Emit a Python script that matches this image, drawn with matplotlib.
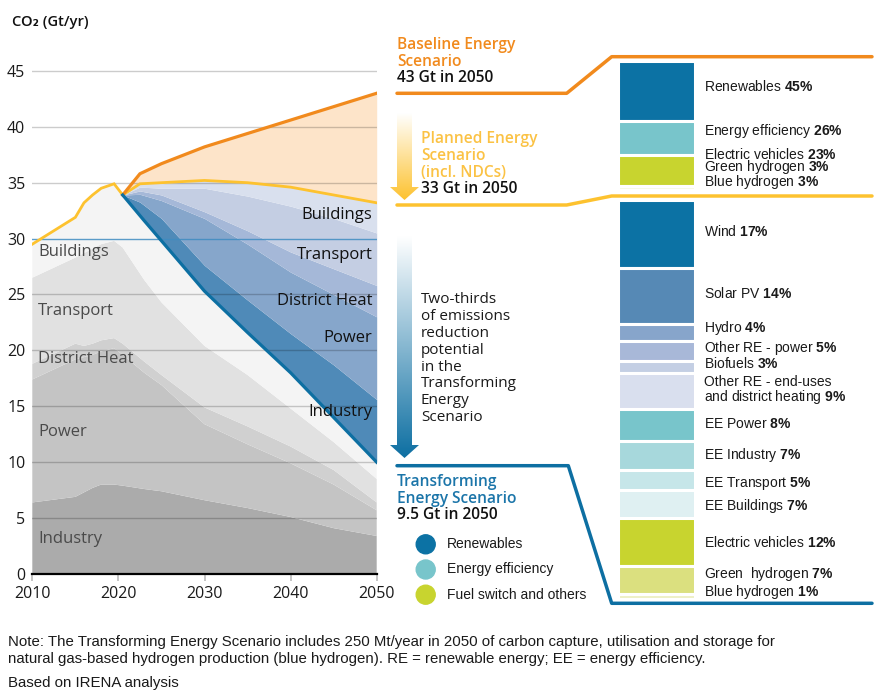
import numpy as np
import matplotlib
matplotlib.use("Agg")
import matplotlib.pyplot as plt
from matplotlib import font_manager
from matplotlib.patches import Circle, Polygon
from matplotlib.colors import LinearSegmentedColormap

# ======================================================
# DATA (Gt CO2 / yr)
# ======================================================

years = [2010, 2015, 2016, 2017, 2018, 2019.5, 2020.5, 2023,
         2025, 2030, 2035, 2040, 2045, 2050]

# history + Transforming Energy Scenario, by sector
tes_industry = [6.4, 6.9, 7.3, 7.7, 8.0, 8.0, 7.9, 7.6, 7.4, 6.6, 5.9, 5.1, 4.1, 3.4]
tes_power = [11.0, 12.3, 12.1, 11.9, 11.9, 12.2, 11.7, 10.4, 9.5, 6.8, 5.7, 4.8, 3.9, 2.3]
tes_dheat = [1.4, 1.4, 1.0, 1.0, 1.0, 0.9, 1.0, 1.0, 0.9, 1.5, 1.6, 1.5, 1.3, 0.7]
tes_transport = [7.7, 7.7, 8.3, 8.5, 8.6, 8.7, 8.6, 7.3, 6.5, 5.5, 4.6, 3.4, 2.5, 2.1]
tes_buildings = [3.0, 3.6, 4.5, 4.8, 5.0, 5.1, 4.7, 5.3, 5.5, 4.9, 3.8, 3.2, 2.2, 1.5]

scen_years = [2020.5, 2022.5, 2025, 2030, 2035, 2040, 2045, 2050]
baseline = [33.9, 35.8, 36.7, 38.2, 39.4, 40.6, 41.8, 43.0]
planned = [33.9, 34.9, 35.0, 35.2, 35.0, 34.6, 33.9, 33.2]

# reduction Planned -> Transforming, by sector
cut_industry = [0, 1.2, 2.0, 2.3, 2.9, 3.5, 4.7, 5.6]
cut_power = [0, 0.7, 1.6, 4.2, 5.0, 5.5, 6.3, 7.4]
cut_dheat = [0, 0.3, 0.5, 0.6, 1.2, 1.8, 2.3, 2.8]
cut_transport = [0, 0.35, 0.6, 2.1, 3.1, 4.1, 4.5, 4.7]
cut_buildings = [0, 0.3, 0.4, 0.7, 1.2, 1.7, 2.1, 2.7]

sectors = ["Industry", "Power", "District Heat", "Transport", "Buildings"]

# Baseline -> Planned reduction shares (%)
upper_labels = ["Renewables", "Energy efficiency", "Electric vehicles",
                "Green hydrogen", "Blue hydrogen"]
upper_shares = [45, 26, 23, 3, 3]

# Planned -> Transforming reduction shares (%)
lower_labels = ["Wind", "Solar PV", "Hydro", "Other RE - power", "Biofuels",
                "Other RE - end-uses\nand district heating", "EE Power",
                "EE Industry", "EE Transport", "EE Buildings",
                "Electric vehicles", "Green  hydrogen", "Blue hydrogen"]
lower_shares = [17, 14, 4, 5, 3, 9, 8, 7, 5, 7, 12, 7, 1]

legend_labels = ["Renewables", "Energy efficiency", "Fuel switch and others"]

# ======================================================
# STYLE
# ======================================================

avail = {f.name for f in font_manager.fontManager.ttflist}
MAIN = "Open Sans" if "Open Sans" in avail else "DejaVu Sans"
NARROW = "Liberation Sans Narrow" if "Liberation Sans Narrow" in avail else "Liberation Sans"

plt.rcParams["font.family"] = [MAIN, "DejaVu Sans"]
plt.rcParams["mathtext.fontset"] = "custom"
plt.rcParams["mathtext.rm"] = NARROW
plt.rcParams["mathtext.bf"] = NARROW + ":bold"

grey_cols = ["#ababab", "#c4c4c4", "#d0d0d0", "#e1e1e1", "#f4f4f4"]
blue_cols = ["#4f8ab8", "#86a6cb", "#a5b8d8", "#c4cee3", "#d9e0ee"]
upper_cols = ["#0c72a4", "#78c5cb", "#c8d42f", "#f7f9e4", "#e6ebbd"]
lower_cols = ["#0c72a4", "#5689b5", "#87a5cb", "#a8b8d8", "#c4cfe4", "#d9dfee",
              "#78c5cb", "#a7d8dc", "#c6e6e9", "#dff0f2", "#c8d42f",
              "#dbe07f", "#eef0c6"]
legend_cols = ["#0c72a4", "#78c5cb", "#c8d42f"]

ORANGE = "#f18a1d"
YELLOW = "#fdc22f"
BLUE = "#0d6fa2"
W, H = 889, 697

fig = plt.figure(figsize=(W / 100, H / 100), dpi=100)

# ======================================================
# MAIN AREA CHART
# ======================================================

ax = fig.add_axes([32.3 / W, 1 - 574 / H, 344.4 / W, 514.3 / H])

ax.stackplot(years, tes_industry, tes_power, tes_dheat, tes_transport,
             tes_buildings, colors=grey_cols, linewidth=0)

tes_total = np.sum([tes_industry, tes_power, tes_dheat, tes_transport,
                    tes_buildings], axis=0)

# reduction wedge on top of the TES total
base = np.interp(scen_years, years, tes_total)
cuts = [cut_industry, cut_power, cut_dheat, cut_transport, cut_buildings]
lower = base.copy()
for c, col in zip(cuts, blue_cols):
    upper = lower + np.array(c)
    ax.fill_between(scen_years, lower, upper, color=col, linewidth=0)
    lower = upper

ax.fill_between(scen_years, planned, baseline, color="#fde4c9", linewidth=0)

# gridlines
for v in range(5, 50, 5):
    if v == 30:
        ax.axhline(v, color="#3f8cc1", lw=1.0, alpha=0.85, zorder=3)
    else:
        ax.axhline(v, color="black", lw=1.0, alpha=0.2, zorder=3)

# scenario lines
n_hist = 7
ax.plot(np.r_[years[:n_hist], scen_years[1:]],
        np.r_[tes_total[:n_hist], planned[1:]],
        color=YELLOW, lw=2.0, zorder=5, solid_joinstyle="miter")
ax.plot(scen_years, baseline, color=ORANGE, lw=2.3, zorder=5)
ax.plot(years[n_hist - 1:], tes_total[n_hist - 1:], color=BLUE, lw=2.3, zorder=6)

ax.set_xlim(2010, 2050)
ax.set_ylim(0, 46)
ax.set_xticks([2010, 2020, 2030, 2040, 2050])
ax.set_yticks(range(0, 50, 5))
for s in ["top", "right", "left"]:
    ax.spines[s].set_visible(False)
ax.spines["bottom"].set_color("black")
ax.spines["bottom"].set_linewidth(1.6)
ax.spines["bottom"].set_zorder(7)
ax.tick_params(axis="y", length=0, pad=5, labelsize=11.5, labelcolor="#1a1a1a")
ax.tick_params(axis="x", length=5, width=1.2, color="#bbbbbb", pad=4,
               labelsize=11.5, labelcolor="#1a1a1a")

# sector labels
grey_label_y = [3.1, 12.7, 19.2, 23.5, 28.8]
for name, y in zip(sectors, grey_label_y):
    ax.text(2010.7, y, name, fontsize=12, color="#4a4a4a", va="center",
            ha="left", zorder=8)

blue_label_y = [14.5, 21.1, 24.4, 28.5, 32.1]
for name, y in zip(sectors, blue_label_y):
    ax.text(2049.5, y, name, fontsize=12, color="#111111", va="center",
            ha="right", zorder=8)

fig.text(12 / W, 1 - 22 / H, "CO\u2082 (Gt/yr)", fontsize=10.5, weight="semibold",
         color="#111111", va="center", ha="left")

# ======================================================
# OVERLAY (annotations in pixel space)
# ======================================================

ov = fig.add_axes([0, 0, 1, 1], zorder=-1)
ov.set_xlim(0, W)
ov.set_ylim(H, 0)
ov.axis("off")

ov.plot([397, 566.7, 611.7, 872], [93.3, 93.3, 56.7, 56.7], color=ORANGE,
        lw=2.5, solid_capstyle="round")
ov.plot([397, 566.7, 611.7, 872], [205, 205, 196, 196], color=YELLOW,
        lw=2.5, solid_capstyle="round")
ov.plot([397, 568.3, 611.7, 872], [465.7, 465.7, 603.3, 603.3], color=BLUE,
        lw=2.5, solid_capstyle="round")


def grad_arrow(a, y0, y1, color):
    x0, x1, hw, hh = 397, 412, 29, 13
    xc = (x0 + x1) / 2
    verts = [(x0, y0), (x1, y0), (x1, y1 - hh), (xc + hw / 2, y1 - hh),
             (xc, y1), (xc - hw / 2, y1 - hh), (x0, y1 - hh)]
    poly = Polygon(verts, closed=True, facecolor="none", edgecolor="none")
    a.add_patch(poly)
    cmap = LinearSegmentedColormap.from_list("g", ["white", color])
    grad = np.linspace(0, 1, 256).reshape(-1, 1)
    im = a.imshow(grad, extent=(xc - hw / 2, xc + hw / 2, y1, y0), cmap=cmap,
                  aspect="auto", origin="upper", interpolation="bilinear")
    im.set_clip_path(poly)


grad_arrow(ov, 113, 200, YELLOW)
grad_arrow(ov, 236, 458, BLUE)
ov.set_xlim(0, W)
ov.set_ylim(H, 0)

TS = 11.2
ov.text(397, 53.4, "Baseline Energy\nScenario", color=ORANGE, fontsize=TS,
        weight="semibold", va="center", linespacing=1.08)
ov.text(397, 78.3, "43 Gt in 2050", color="#111111", fontsize=TS,
        weight="semibold", va="center")

ov.text(421, 155.7, "Planned Energy\nScenario\n(incl. NDCs)", color="#fbc244",
        fontsize=TS, weight="semibold", va="center", linespacing=1.08)
ov.text(421, 189.3, "33 Gt in 2050", color="#111111", fontsize=TS,
        weight="semibold", va="center")

ov.text(421, 358.6, "Two-thirds\nof emissions\nreduction\npotential\nin the\n"
        "Transforming\nEnergy\nScenario", color="#1a1a1a", fontsize=11,
        va="center", linespacing=1.17)

ov.text(397, 490.3, "Transforming\nEnergy Scenario", color="#1b75a9",
        fontsize=TS, weight="semibold", va="center", linespacing=1.08)
ov.text(397, 515, "9.5 Gt in 2050", color="#111111", fontsize=TS,
        weight="semibold", va="center")

for i, (lab, col) in enumerate(zip(legend_labels, legend_cols)):
    yy = 544.3 + i * 25.2
    ov.add_patch(Circle((425.7, yy), 9.5, color=col))
    ov.text(446.7, yy, lab, fontsize=10, family=NARROW, color="#1a1a1a",
            va="center")

# ======================================================
# SHARE COLUMNS
# ======================================================


def share_column(bottom_px, top_px, labels, shares, cols, groups):
    a = fig.add_axes([618 / W, 1 - bottom_px / H, 77 / W,
                      (bottom_px - top_px) / H])
    total = sum(shares)
    cum = np.concatenate([[0], np.cumsum(shares)[:-1]])
    a.bar(0.5, shares, bottom=cum, width=1.0, color=cols, edgecolor="white",
          linewidth=2.2)
    a.set_xlim(0, 1)
    a.set_ylim(total, 0)
    a.axis("off")
    tr = a.get_yaxis_transform()
    # labels of crowded thin segments are stacked into one text block
    for idx, y, ls in groups:
        txt = "\n".join(f"{labels[i]} $\\bf{{{shares[i]}\\%}}$" for i in idx)
        a.text(1.12, y, txt, transform=tr, fontsize=10, family=NARROW,
               color="#1a1a1a", va="center", ha="left", linespacing=ls)


share_column(193.5, 61, upper_labels, upper_shares, upper_cols,
             [([0], 19, 1.0), ([1], 53, 1.0), ([2, 3, 4], 81.5, 0.75)])
share_column(598.5, 199.5, lower_labels, lower_shares, lower_cols,
             [([0], 8, 1.0), ([1], 23.3, 1.0), ([2], 31.8, 1.0),
              ([3, 4], 38.6, 0.87), ([5], 47.4, 0.89), ([6], 55.6, 1.0),
              ([7], 63.3, 1.0), ([8], 70.4, 1.0), ([9], 76, 1.0),
              ([10], 85.1, 1.0), ([11, 12], 95.2, 0.96)])

# ======================================================
# NOTE
# ======================================================

fig.text(8 / W, 1 - 650.5 / H,
         "Note: The Transforming Energy Scenario includes 250 Mt/year in 2050 of "
         "carbon capture, utilisation and storage for\nnatural gas-based hydrogen "
         "production (blue hydrogen). RE = renewable energy; EE = energy efficiency.",
         family=NARROW, fontsize=10.8, color="#1a1a1a", va="center", ha="left",
         linespacing=1.3)
fig.text(8 / W, 1 - 683 / H, "Based on IRENA analysis", family=NARROW,
         fontsize=10.8, color="#1a1a1a", va="center", ha="left")

fig.savefig("out.png", dpi=100)
